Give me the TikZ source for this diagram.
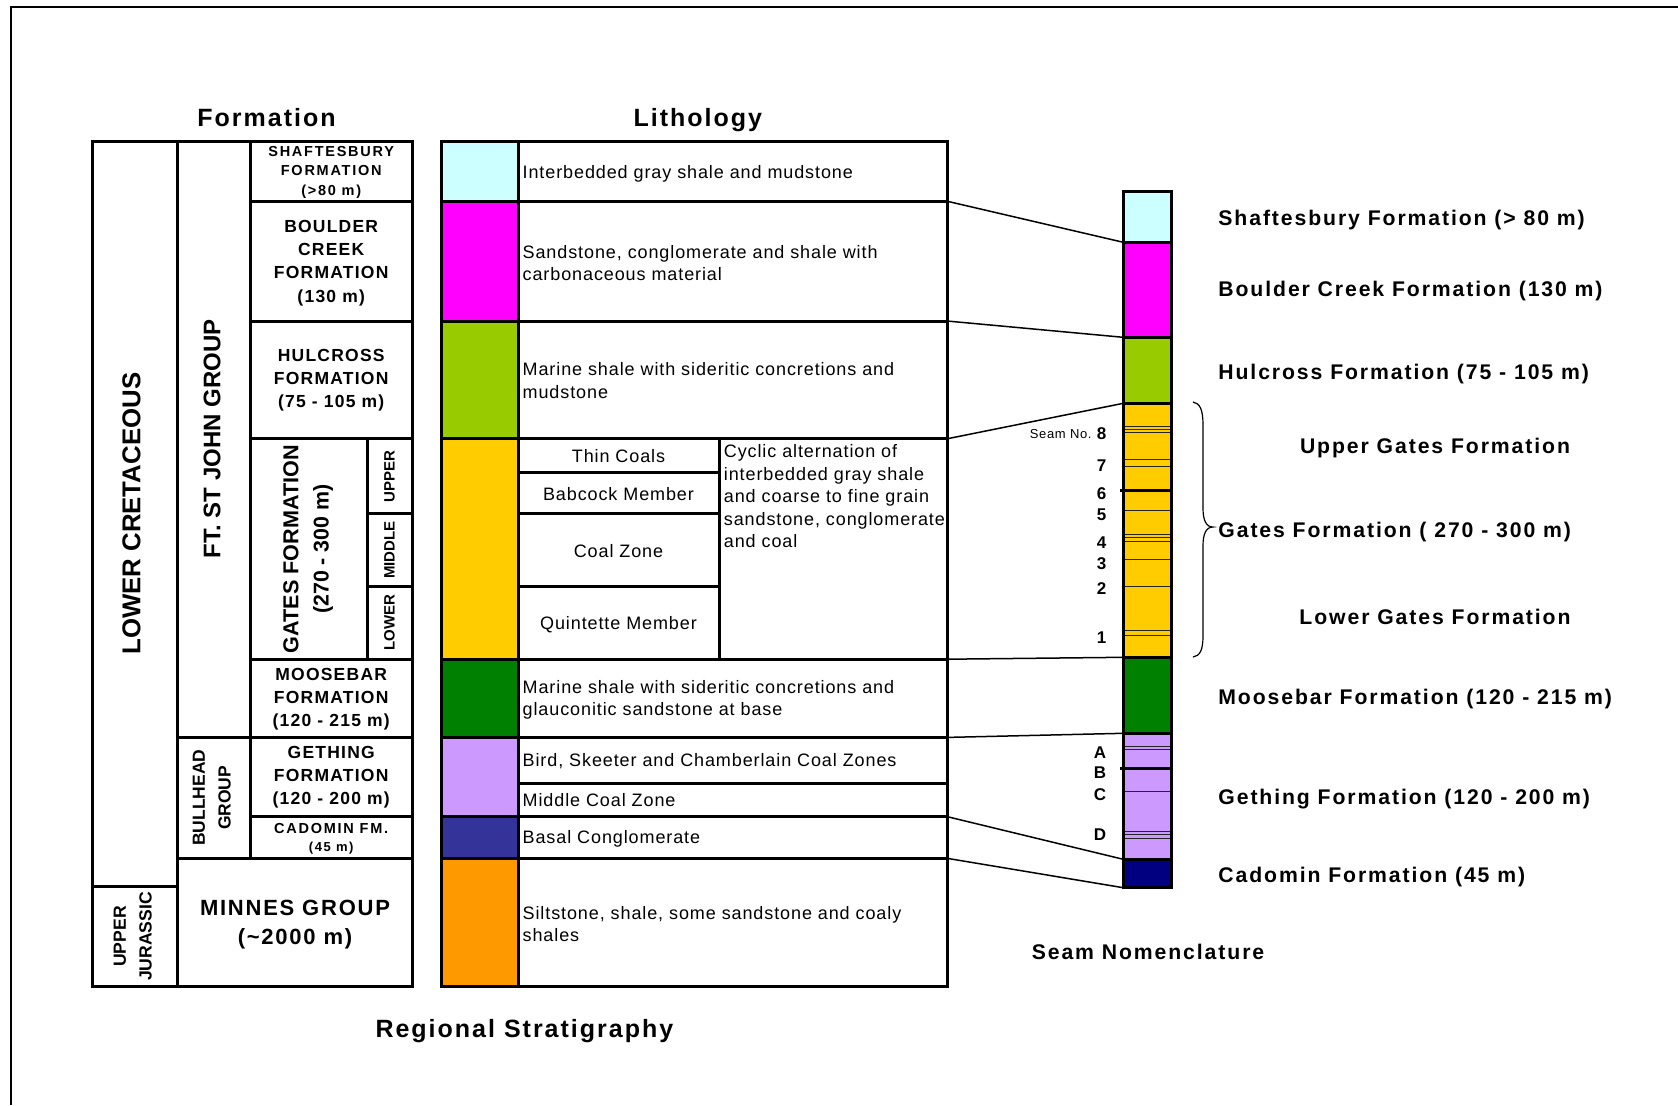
\documentclass[tikz,border=0pt]{standalone}
\usepackage{fontspec}
\setmainfont{Liberation Sans}
\newfontfamily\hdfont[LetterSpace=8]{Liberation Sans}
\newfontfamily\rlfont[LetterSpace=9]{Liberation Sans}
\newfontfamily\fmfont[LetterSpace=7]{Liberation Sans}
\newfontfamily\smfont[LetterSpace=12]{Liberation Sans}
\newfontfamily\txfont[LetterSpace=5]{Liberation Sans}
\definecolor{cShaft}{HTML}{CCFFFF}
\definecolor{cBoulder}{HTML}{FF00FF}
\definecolor{cHul}{HTML}{99CC00}
\definecolor{cGates}{HTML}{FFCC00}
\definecolor{cMoose}{HTML}{008000}
\definecolor{cGething}{HTML}{CC99FF}
\definecolor{cCadL}{HTML}{333399}
\definecolor{cCadS}{HTML}{000080}
\definecolor{cMinnes}{HTML}{FF9900}
\begin{document}
\begin{tikzpicture}[x=0.5pt,y=-0.5pt,
  cell/.style={draw=black,line width=1.5pt},
  conn/.style={draw=black,line width=0.75pt},
  seamline/.style={draw=black!85,line width=0.5pt},
  seamthick/.style={draw=black,line width=1.5pt},
  txt/.style={inner sep=0pt,yshift=-1.2pt},
  titletext/.style={txt,font={\hdfont\bfseries\fontsize{12.5}{15}\selectfont}},
  rlabel/.style={txt,font={\rlfont\bfseries\fontsize{10.6}{12.6}\selectfont}},
  ltext/.style={txt,font={\txfont\fontsize{9}{11.25}\selectfont},anchor=west,align=left},
  ctext/.style={txt,font={\txfont\fontsize{9}{11.25}\selectfont}},
  fmtext/.style={txt,font={\fmfont\bfseries\fontsize{8.75}{11.6}\selectfont},align=center},
  smtext/.style={txt,font={\smfont\bfseries\fontsize{7.25}{9.9}\selectfont},align=center},
  rottext/.style={rotate=90,inner sep=0pt},
  seamnum/.style={txt,font={\bfseries\fontsize{8.5}{10}\selectfont}}
]
\useasboundingbox (0,0) rectangle (1678,1105);
\fill[white] (0,0) rectangle (1678,1105);
\draw[line width=1pt] (11,1105) -- (11,7) -- (1678,7);

% ---------------- Titles
\node[titletext] (tForm) at (266.5,115.3) {Formation};
\node[titletext] (tLith) at (697.8,117.7) {Lithology};
\node[titletext] (tReg) at (524.4,1028.5) {Regional Stratigraphy};
\node[rlabel] (tSeam) at (1148,949.4) {Seam Nomenclature};

% ---------------- Formation table
\draw[cell] (92,141.3) rectangle (177.7,886);
\draw[cell] (92,886) rectangle (177.7,986.7);
\draw[cell] (177.7,141.3) rectangle (250.4,737.4);
\draw[cell] (177.7,737.4) rectangle (250.4,858.3);
\draw[cell] (177.7,858.3) rectangle (412,986.7);
\draw[cell] (250.4,141.3) rectangle (412,201.2);
\draw[cell] (250.4,201.2) rectangle (412,321);
\draw[cell] (250.4,321) rectangle (412,438.8);
\draw[cell] (250.4,438.8) rectangle (367,659.2);
\draw[cell] (367,438.8) rectangle (412,513.7);
\draw[cell] (367,513.7) rectangle (412,586.5);
\draw[cell] (367,586.5) rectangle (412,659.2);
\draw[cell] (250.4,659.2) rectangle (412,737.4);
\draw[cell] (250.4,737.4) rectangle (412,816.6);
\draw[cell] (250.4,816.6) rectangle (412,858.3);

\node[rottext,font={\bfseries\fontsize{12.9}{15}\selectfont}] (fLC) at (131.6,513.7) {LOWER CRETACEOUS};
\node[rottext,font={\bfseries\fontsize{12}{14}\selectfont}] (fFSJ) at (212,438.8) {FT. ST JOHN GROUP};
\node[rottext,font={\bfseries\fontsize{8.75}{10}\selectfont}] (fBH1) at (199,797.8) {BULLHEAD};
\node[rottext,font={\bfseries\fontsize{8.75}{10}\selectfont}] (fBH2) at (224.7,797.8) {GROUP};
\node[rottext,font={\bfseries\fontsize{8.8}{10}\selectfont}] (fUJ1) at (119.9,936.4) {UPPER};
\node[rottext,font={\bfseries\fontsize{8.8}{10}\selectfont}] (fUJ2) at (145.5,936.4) {JURASSIC};
\node[rottext,font={\bfseries\fontsize{10.8}{12}\selectfont}] (fG1) at (291,549) {GATES FORMATION};
\node[rottext,font={\bfseries\fontsize{10.7}{12}\selectfont}] (fG2) at (323,549) {(270 - 300 m)};
\node[rottext,font={\bfseries\fontsize{7.5}{9}\selectfont}] (fGU) at (389.5,476.2) {UPPER};
\node[rottext,font={\bfseries\fontsize{7.5}{9}\selectfont}] (fGM) at (389.5,550) {MIDDLE};
\node[rottext,font={\bfseries\fontsize{7.5}{9}\selectfont}] (fGL) at (389.5,622.9) {LOWER};

\node[smtext] (fShaft) at (331.2,170) {SHAFTESBURY\\FORMATION\\(>80 m)};
\node[fmtext] (fBoul) at (331.2,260.6) {BOULDER\\CREEK\\FORMATION\\(130 m)};
\node[fmtext] (fHul) at (331.2,377.9) {HULCROSS\\FORMATION\\(75 - 105 m)};
\node[fmtext] (fMoose) at (331.2,696.8) {MOOSEBAR\\FORMATION\\(120 - 215 m)};
\node[fmtext] (fGeth) at (331.2,774.9) {GETHING\\FORMATION\\(120 - 200 m)};
\node[smtext] (fCad1) at (331.2,826.3) {CADOMIN FM.};
\node[smtext,font={\smfont\bfseries\fontsize{6.5}{8}\selectfont}] (fCad2) at (331.2,845.5) {(45 m)};
\node[txt,font={\hdfont\bfseries\fontsize{11}{14.5}\selectfont},align=center] (fMin) at (295,922) {MINNES GROUP\\(\textasciitilde2000 m)};

% ---------------- Lithology table
\draw[cell,fill=cShaft] (441,141.3) rectangle (518,201.2);
\draw[cell,fill=cBoulder] (441,201.2) rectangle (518,321);
\draw[cell,fill=cHul] (441,321) rectangle (518,438.8);
\draw[cell,fill=cGates] (441,438.8) rectangle (518,659.2);
\draw[cell,fill=cMoose] (441,659.2) rectangle (518,737.4);
\draw[cell,fill=cGething] (441,737.4) rectangle (518,816.6);
\draw[cell,fill=cCadL] (441,816.6) rectangle (518,858.3);
\draw[cell,fill=cMinnes] (441,858.3) rectangle (518,986.7);

\draw[cell] (518,141.3) rectangle (947,201.2);
\draw[cell] (518,201.2) rectangle (947,321);
\draw[cell] (518,321) rectangle (947,438.8);
\draw[cell] (518,438.8) rectangle (719,472);
\draw[cell] (518,472) rectangle (719,513.7);
\draw[cell] (518,513.7) rectangle (719,586.5);
\draw[cell] (518,586.5) rectangle (719,659.2);
\draw[cell] (719,438.8) rectangle (947,659.2);
\draw[cell] (518,659.2) rectangle (947,737.4);
\draw[cell] (518,737.4) rectangle (947,783.4);
\draw[cell] (518,783.4) rectangle (947,816.6);
\draw[cell] (518,816.6) rectangle (947,858.3);
\draw[cell] (518,858.3) rectangle (947,986.7);

\node[ltext] (lShaft) at (522.3,171.2) {Interbedded gray shale and mudstone};
\node[ltext] (lBoul) at (522.3,260.6) {Sandstone, conglomerate and shale with\\carbonaceous material};
\node[ltext] (lHul) at (522.3,378.4) {Marine shale with sideritic concretions and\\mudstone};
\node[ctext] (lThin) at (618.5,454) {Thin Coals};
\node[ctext] (lBab) at (618.5,491.6) {Babcock Member};
\node[ctext] (lCoal) at (618.5,549) {Coal Zone};
\node[ctext] (lQuin) at (618.5,622.5) {Quintette Member};
\node[ltext] (lCyc) at (723.5,494) {Cyclic alternation of\\interbedded gray shale\\and coarse to fine grain\\sandstone, conglomerate\\and coal};
\node[ltext] (lMoose) at (522.3,697.2) {Marine shale with sideritic concretions and\\glauconitic sandstone at base};
\node[ltext] (lBird) at (522.3,759) {Bird, Skeeter and Chamberlain Coal Zones};
\node[ltext] (lMid) at (522.3,797.8) {Middle Coal Zone};
\node[ltext] (lBasal) at (522.3,836.3) {Basal Conglomerate};
\node[ltext] (lMin) at (522.3,921.5) {Siltstone, shale, some sandstone and coaly\\shales};

% ---------------- Seam column
\fill[cShaft] (1123.3,191.7) rectangle (1171.7,242.3);
\fill[cBoulder] (1123.3,242.3) rectangle (1171.7,337.3);
\fill[cHul] (1123.3,337.3) rectangle (1171.7,403.3);
\fill[cGates] (1123.3,403.3) rectangle (1171.7,657.3);
\fill[cMoose] (1123.3,657.3) rectangle (1171.7,733.3);
\fill[cGething] (1123.3,733.3) rectangle (1171.7,859.3);
\fill[cCadS] (1123.3,859.3) rectangle (1171.7,887.7);
\foreach \yy in {426.7,429.3,432.3,459.3,466,510,534.3,537.7,541.7,559,586.7,630.7,635,746.7,749.3,791,831,834.3,838.3}
  \draw[seamline] (1123.3,\yy) -- (1171.7,\yy);
\draw[seamthick] (1120,490.7) -- (1171.7,490.7);
\draw[seamthick] (1120,768.3) -- (1171.7,768.3);
\foreach \yy in {242.3,337.3,403.3,657.3,733.3,859.3}
  \draw[seamthick] (1123.3,\yy) -- (1171.7,\yy);
\draw[seamthick] (1123.3,191.7) rectangle (1171.7,887.7);

\node[txt,font={\txfont\fontsize{6.5}{8}\selectfont},anchor=east] (sNo) at (1092,431.5) {Seam No.};
\node[seamnum] (s8) at (1101.5,431.5) {8};
\node[seamnum] (s7) at (1101.5,463) {7};
\node[seamnum] (s6) at (1101.5,491.3) {6};
\node[seamnum] (s5) at (1101.5,512) {5};
\node[seamnum] (s4) at (1101.5,539.8) {4};
\node[seamnum] (s3) at (1101.5,561) {3};
\node[seamnum] (s2) at (1101.5,586) {2};
\node[seamnum] (s1) at (1101.5,635) {1};
\node[seamnum] (sA) at (1100,750) {A};
\node[seamnum] (sB) at (1100,770.7) {B};
\node[seamnum] (sC) at (1100,791.8) {C};
\node[seamnum] (sD) at (1100,832.5) {D};

% ---------------- Connectors
\coordinate (a1) at (947,201.2);  \coordinate (b1) at (1123.3,242.3);
\coordinate (a2) at (947,321);    \coordinate (b2) at (1123.3,337.3);
\coordinate (a3) at (947,438.8);  \coordinate (b3) at (1123.3,403.3);
\coordinate (a4) at (947,659.2);  \coordinate (b4) at (1123.3,657.3);
\coordinate (a5) at (947,737.4);  \coordinate (b5) at (1123.3,733.3);
\coordinate (a6) at (947,816.6);  \coordinate (b6) at (1123.3,859.3);
\coordinate (a7) at (947,858.3);  \coordinate (b7) at (1123.3,887.7);
\foreach \i in {1,...,7} \draw[conn] (a\i) -- (b\i);

% ---------------- Brace
\coordinate (brT) at (1193,402);
\coordinate (brM) at (1213,527);
\coordinate (brB) at (1193,657);
\draw[line width=0.6pt] (brT) .. controls (1200,403) and (1203,410) .. (1203,425)
  -- (1203,508) .. controls (1203,520) and (1206,527) .. (brM)
  .. controls (1206,527) and (1203,534) .. (1203,546)
  -- (1203,636) .. controls (1203,650) and (1200,656) .. (brB);

% ---------------- Right labels
\node[rlabel,anchor=west] (rShaft) at (1218,217.3) {Shaftesbury Formation (> 80 m)};
\node[rlabel,anchor=west] (rBoul) at (1218,289) {Boulder Creek Formation (130 m)};
\node[rlabel,anchor=west] (rHul) at (1218,371.4) {Hulcross Formation (75 - 105 m)};
\node[rlabel] (rUG) at (1435,445.3) {Upper Gates Formation};
\node[rlabel,anchor=west] (rG) at (1218,529.7) {Gates Formation ( 270 - 300 m)};
\node[rlabel] (rLG) at (1435,614.4) {Lower Gates Formation};
\node[rlabel,anchor=west] (rMoose) at (1218,696.7) {Moosebar Formation (120 - 215 m)};
\node[rlabel,anchor=west] (rGeth) at (1218,796.3) {Gething Formation (120 - 200 m)};
\node[rlabel,anchor=west] (rCad) at (1218,874.4) {Cadomin Formation (45 m)};
\end{tikzpicture}
\end{document}
